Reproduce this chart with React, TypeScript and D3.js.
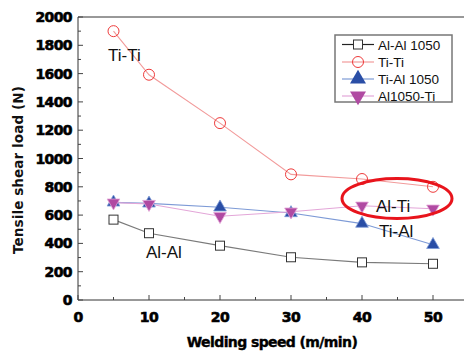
import { useEffect, useRef } from 'react';
import * as d3 from 'd3';

const speeds = [5, 10, 20, 30, 40, 50];
const alAl = [568, 472, 384, 302, 266, 256];
const tiTi = [1900, 1592, 1250, 888, 855, 800];
const tiAl = [690, 683, 655, 615, 540, 390];
const alTi = [688, 678, 592, 624, 666, 645];

const xTicks = [0, 10, 20, 30, 40, 50];
const yTicks = [0, 200, 400, 600, 800, 1000, 1200, 1400, 1600, 1800, 2000];

const series = [
  { name: 'Al-Al 1050', values: alAl, line: '#7a7a7a', stroke: '#333333', fill: '#ffffff', shape: 'square' },
  { name: 'Ti-Ti', values: tiTi, line: '#f29a9a', stroke: '#ee3a3a', fill: 'none', shape: 'circle' },
  { name: 'Ti-Al 1050', values: tiAl, line: '#7d9ad6', stroke: '#2a4ea6', fill: '#2a4ea6', shape: 'up' },
  { name: 'Al1050-Ti', values: alTi, line: '#e3a6d8', stroke: '#b04aa2', fill: '#b04aa2', shape: 'down' }
];

const App = () => {
  const svgRef = useRef<SVGSVGElement>(null);

  useEffect(() => {
    const svg = d3.select(svgRef.current);
    svg.selectAll('*').remove();

    const margin = { left: 78, top: 17, bottom: 300 };
    const x = d3.scaleLinear().domain([0, 55]).range([margin.left, margin.left + 55 * 7.1]);
    const y = d3.scaleLinear().domain([0, 2000]).range([margin.bottom, margin.top]);

    const tickFont = 'DejaVu Sans, sans-serif';

    // frame
    svg.append('line').attr('x1', x(0)).attr('x2', 470).attr('y1', y(2000)).attr('y2', y(2000))
      .attr('stroke', '#333').attr('stroke-width', 1);
    svg.append('line').attr('x1', x(0)).attr('x2', 470).attr('y1', y(0)).attr('y2', y(0))
      .attr('stroke', '#333').attr('stroke-width', 1);
    svg.append('line').attr('x1', x(0)).attr('x2', x(0)).attr('y1', y(0)).attr('y2', y(2000))
      .attr('stroke', '#333').attr('stroke-width', 1);

    // y ticks (inside)
    d3.range(0, 2001, 100).forEach(v => {
      const major = v % 200 === 0;
      svg.append('line').attr('x1', x(0)).attr('x2', x(0) + (major ? 5 : 3))
        .attr('y1', y(v)).attr('y2', y(v)).attr('stroke', '#444');
    });
    svg.append('g').selectAll('text').data(yTicks).enter().append('text')
      .attr('x', x(0) - 6).attr('y', d => y(d)).attr('dy', '0.36em')
      .attr('text-anchor', 'end').attr('font-family', tickFont).attr('font-weight', 'bold')
      .attr('font-size', 14).attr('fill', '#000').attr('stroke', '#000').attr('stroke-width', 0.6)
      .attr('letter-spacing', -0.6).text(d => d);

    // x ticks (inside)
    d3.range(0, 56, 5).forEach(v => {
      const major = v % 10 === 0;
      svg.append('line').attr('x1', x(v)).attr('x2', x(v))
        .attr('y1', y(0)).attr('y2', y(0) - (major ? 5 : 3)).attr('stroke', '#444');
    });
    svg.append('g').selectAll('text').data(xTicks).enter().append('text')
      .attr('x', d => x(d)).attr('y', y(0) + 22)
      .attr('text-anchor', 'middle').attr('font-family', tickFont).attr('font-weight', 'bold')
      .attr('font-size', 14).attr('fill', '#000').attr('stroke', '#000').attr('stroke-width', 0.6)
      .attr('letter-spacing', -0.6).text(d => d);

    // axis titles
    svg.append('text').attr('x', 272).attr('y', 347).attr('text-anchor', 'middle')
      .attr('font-family', tickFont).attr('font-weight', 'bold').attr('font-size', 14)
      .attr('letter-spacing', -0.6).attr('fill', '#000').attr('stroke', '#000').attr('stroke-width', 0.4)
      .text('Welding speed (m/min)');
    svg.append('text').attr('transform', 'translate(23,170) rotate(-90)').attr('text-anchor', 'middle')
      .attr('font-family', tickFont).attr('font-weight', 'bold').attr('font-size', 13.5)
      .attr('letter-spacing', 0.1).attr('fill', '#111').text('Tensile shear load (N)');

    const line = d3.line<[number, number]>().x(d => x(d[0])).y(d => y(d[1]));

    const drawMarker = (g: any, shape: string, cx: number, cy: number, s: any) => {
      if (shape === 'square') {
        g.append('rect').attr('x', cx - 4.5).attr('y', cy - 4.5).attr('width', 9).attr('height', 9)
          .attr('fill', s.fill).attr('stroke', s.stroke).attr('stroke-width', 1);
      } else if (shape === 'circle') {
        g.append('circle').attr('cx', cx).attr('cy', cy).attr('r', 5.5)
          .attr('fill', 'none').attr('stroke', s.stroke).attr('stroke-width', 1);
      } else {
        const sym = d3.symbol().type(d3.symbolTriangle).size(70);
        g.append('path').attr('d', sym())
          .attr('transform', `translate(${cx},${cy})${shape === 'down' ? ' rotate(180)' : ''}`)
          .attr('fill', s.fill).attr('stroke', s.line).attr('stroke-width', 0.8);
      }
    };

    // series lines
    series.forEach(s => {
      const pts = speeds.map((sp, i) => [sp, s.values[i]] as [number, number]);
      svg.append('path').attr('d', line(pts)).attr('fill', 'none')
        .attr('stroke', s.line).attr('stroke-width', 1.1);
    });
    // markers
    series.forEach(s => {
      const g = svg.append('g');
      speeds.forEach((sp, i) => drawMarker(g, s.shape, x(sp), y(s.values[i]), s));
    });

    // annotations
    const ann = [
      { t: 'Ti-Ti', x: 108, y: 61 },
      { t: 'Al-Al', x: 146, y: 258 },
      { t: 'Al-Ti', x: 376, y: 212 },
      { t: 'Ti-Al', x: 379, y: 237 }
    ];
    ann.forEach(a => {
      svg.append('text').attr('x', a.x).attr('y', a.y).attr('font-family', 'Liberation Sans, Arial, sans-serif')
        .attr('font-size', 17).attr('fill', '#111').text(a.t);
    });

    svg.append('ellipse').attr('cx', 397).attr('cy', 198.5).attr('rx', 55).attr('ry', 20)
      .attr('fill', 'none').attr('stroke', '#e8141c').attr('stroke-width', 3);

    // legend
    const lg = svg.append('g');
    lg.append('rect').attr('x', 335).attr('y', 35).attr('width', 117).attr('height', 67)
      .attr('fill', '#fff').attr('stroke', '#777').attr('stroke-width', 1.5);
    const rowsY = [44.5, 62, 79, 96];
    series.forEach((s, i) => {
      const ry = rowsY[i];
      lg.append('line').attr('x1', 342).attr('x2', 374).attr('y1', ry).attr('y2', ry)
        .attr('stroke', s.shape === 'square' ? '#222' : s.line).attr('stroke-width', 1.2);
      if (s.shape === 'up' || s.shape === 'down') {
        const sym = d3.symbol().type(d3.symbolTriangle).size(110);
        lg.append('path').attr('d', sym())
          .attr('transform', `translate(358,${ry})${s.shape === 'down' ? ' rotate(180)' : ''}`)
          .attr('fill', s.fill);
      } else {
        drawMarker(lg, s.shape, 358, ry, s);
      }
      lg.append('text').attr('x', 378).attr('y', ry + 5).attr('font-family', 'Liberation Sans, Arial, sans-serif')
        .attr('font-size', 13.5).attr('fill', '#111').text(s.name);
    });
  }, []);

  return (
    <svg ref={svgRef} width={464} height={353}
      style={{ position: 'absolute', left: 0, top: 0, background: '#fff' }} />
  );
};

export default App;
